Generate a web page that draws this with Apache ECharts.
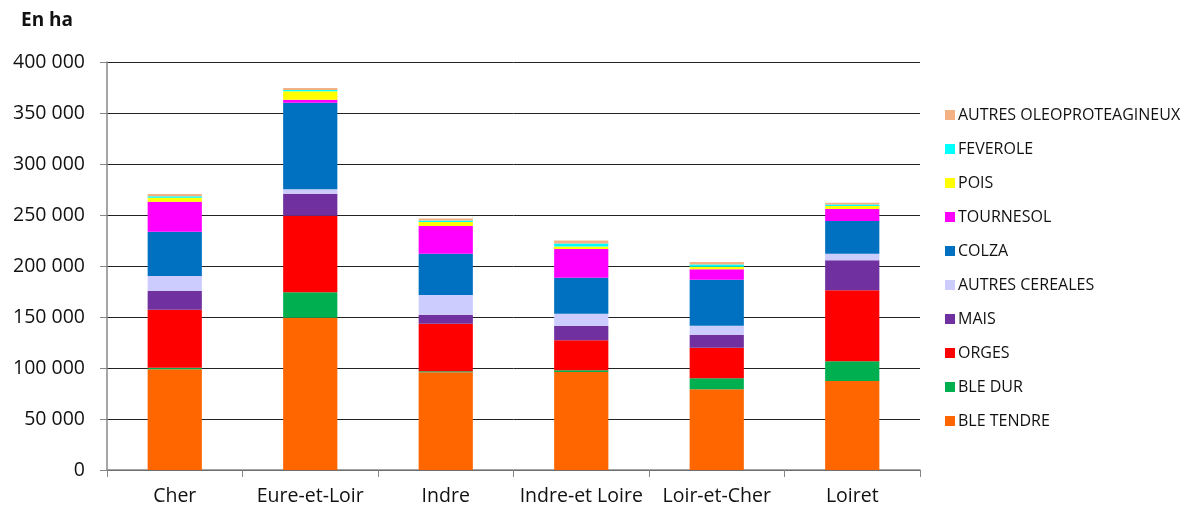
<!DOCTYPE html>
<html>
<head>
<meta charset="utf-8">
<script src="https://cdn.jsdelivr.net/npm/echarts@6/dist/echarts.min.js"></script>
<style>
html,body{margin:0;padding:0;background:#fff;}
#c{width:1200px;height:513px;}
</style>
</head>
<body>
<div id="c"></div>
<script>
var categories = ["Cher", "Eure-et-Loir", "Indre", "Indre-et Loire", "Loir-et-Cher", "Loiret"];
var bleTendre = [98700, 149300, 95800, 96100, 79100, 87300];
var bleDur = [1500, 24900, 1000, 1600, 10800, 19300];
var orges = [57000, 75100, 46700, 29400, 30000, 69600];
var mais = [18300, 21600, 8800, 14000, 12400, 29400];
var autresCereales = [14700, 4300, 19300, 12100, 9100, 6500];
var colza = [43500, 84900, 40500, 35300, 45100, 32000];
var tournesol = [29400, 3000, 27000, 28100, 10200, 11800];
var pois = [3900, 8200, 4000, 2600, 2500, 3000];
var feverole = [1500, 1200, 1500, 2900, 2300, 1500];
var autresOleo = [2000, 2000, 2000, 2900, 2300, 1500];
var yTicks = [0, 50000, 100000, 150000, 200000, 250000, 300000, 350000, 400000];

var seriesDefs = [
  ["BLE TENDRE", bleTendre, "#FF6600"],
  ["BLE DUR", bleDur, "#00B050"],
  ["ORGES", orges, "#FF0000"],
  ["MAIS", mais, "#7030A0"],
  ["AUTRES CEREALES", autresCereales, "#CCCCFF"],
  ["COLZA", colza, "#0070C0"],
  ["TOURNESOL", tournesol, "#FF00FF"],
  ["POIS", pois, "#FFFF00"],
  ["FEVEROLE", feverole, "#00FFFF"],
  ["AUTRES OLEOPROTEAGINEUX", autresOleo, "#F4B183"]
];

function fmt(v){ return String(v).replace(/\B(?=(\d{3})+(?!\d))/g, " "); }

var chart = echarts.init(document.getElementById('c'));
chart.setOption({
  animation: false,
  backgroundColor: '#fff',
  title: {
    text: 'En ha', left: 16, top: 6,
    textStyle: {fontFamily: 'Open Sans', fontWeight: 'bold', fontSize: 19, color: '#111'}
  },
  legend: {
    orient: 'vertical', left: 940, top: 102,
    itemWidth: 10, itemHeight: 10, itemGap: 18,
    icon: 'rect',
    data: seriesDefs.map(function(s){return s[0];}).reverse(),
    textStyle: {fontFamily: 'Open Sans', fontSize: 16, color: '#111', lineHeight: 15, padding: [0,0,0,-2]}
  },
  grid: {left: 107, right: 280, top: 62, bottom: 43},
  xAxis: {
    type: 'category', data: categories,
    axisLine: {lineStyle: {color: '#888', width: 1.5}},
    axisTick: {show: true, length: 7, lineStyle: {color: '#888'}},
    axisLabel: {interval: 0, fontFamily: 'Open Sans', fontSize: 19.5, color: '#111', margin: 16}
  },
  yAxis: {
    type: 'value', min: 0, max: 400000, interval: 50000,
    axisLine: {show: true, lineStyle: {color: '#888', width: 1.5}},
    axisTick: {show: true, length: 7, lineStyle: {color: '#888'}},
    splitLine: {lineStyle: {color: '#222', width: 1}},
    axisLabel: {fontFamily: 'Open Sans', fontSize: 19.5, color: '#111', margin: 22,
      formatter: function(v){ return fmt(v); }}
  },
  series: seriesDefs.map(function(s){
    return {
      name: s[0], type: 'bar', stack: 'total', data: s[1],
      barWidth: '40%', itemStyle: {color: s[2]}
    };
  })
});
</script>
</body>
</html>
